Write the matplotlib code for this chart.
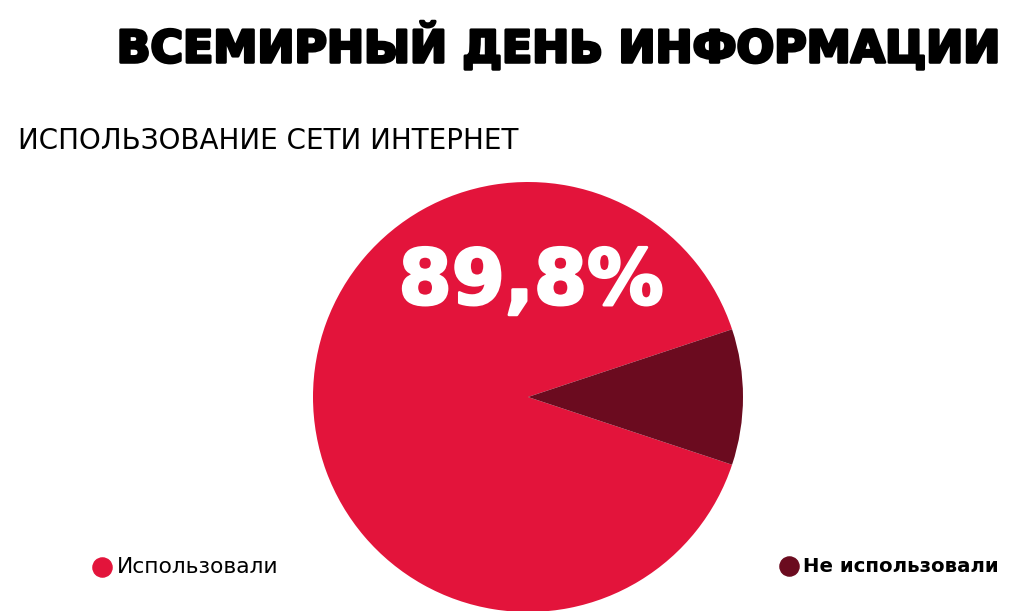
import numpy as np
import matplotlib.pyplot as plt
import matplotlib.patheffects as pe

# data
labels = ["Использовали", "Не использовали"]
values = [89.8, 10.2]
colors = ["#E3143B", "#6B0B1F"]
title = "ВСЕМИРНЫЙ ДЕНЬ ИНФОРМАЦИИ"
subtitle = "ИСПОЛЬЗОВАНИЕ СЕТИ ИНТЕРНЕТ"
big_label = "89,8%"

W, H = 1020, 611
fig = plt.figure(figsize=(W / 100, H / 100), dpi=100)
ax = fig.add_axes([0, 0, 1, 1])

# pie, small slice centred on the right
start = values[1] * 3.6 / 2
ax.pie(values, colors=colors, startangle=start, center=(528, H - 397),
       radius=215, frame=True, wedgeprops=dict(linewidth=0))
ax.set_xlim(0, W)
ax.set_ylim(0, H)
ax.set_aspect("equal")
ax.axis("off")

ax.text(999, H - 47, title, ha="right", va="center", fontsize=31.9,
        fontweight="bold", family="DejaVu Sans",
        path_effects=[pe.withStroke(linewidth=2.2, foreground="black")])
ax.text(18, H - 141, subtitle, ha="left", va="center", fontsize=20,
        family="DejaVu Sans")
ax.text(531, H - 283, big_label, ha="center", va="center", fontsize=55,
        fontweight="bold", color="white", family="DejaVu Sans",
        path_effects=[pe.withStroke(linewidth=2, foreground="white")])

# legend
ax.scatter([102], [H - 567], s=190, color=colors[0], zorder=5)
ax.text(117, H - 567, labels[0], ha="left", va="center", fontsize=15.7,
        family="DejaVu Sans")
ax.scatter([789], [H - 566], s=190, color=colors[1], zorder=5)
ax.text(803, H - 566, labels[1], ha="left", va="center", fontsize=14.2,
        fontweight="bold", family="DejaVu Sans")

fig.savefig("out.png", dpi=100)
